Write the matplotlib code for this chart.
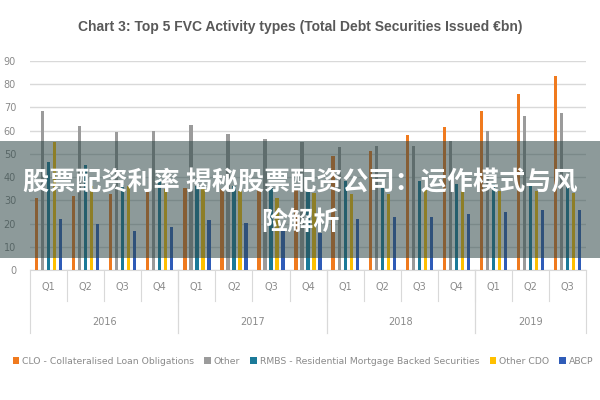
import numpy as np
import matplotlib
matplotlib.use('Agg')
import matplotlib.pyplot as plt
from matplotlib.lines import Line2D
from matplotlib.patches import Rectangle

# data (EUR bn)
years = ['2016', '2017', '2018', '2019']
quarters = ['Q1', 'Q2', 'Q3', 'Q4', 'Q1', 'Q2', 'Q3', 'Q4',
            'Q1', 'Q2', 'Q3', 'Q4', 'Q1', 'Q2', 'Q3']
quartersPerYear = [4, 4, 4, 3]

seriesNames = ['CLO - Collateralised Loan Obligations', 'Other',
               'RMBS - Residential Mortgage Backed Securities', 'Other CDO', 'ABCP']
clo = [30.9, 31.9, 32.9, 33.7, 35.4, 34.7, 35.0, 34.7, 49.0, 51.1, 58.0, 61.4, 68.6, 75.7, 83.4]
other = [68.5, 61.8, 59.4, 60.0, 62.3, 58.5, 56.3, 55.0, 52.8, 53.5, 53.3, 55.7, 59.9, 66.4, 67.4]
rmbs = [46.6, 45.4, 36.5, 39.0, 36.0, 36.0, 35.4, 34.0, 38.3, 35.4, 38.3, 36.9, 37.0, 36.0, 36.0]
otherCdo = [55.1, 36.0, 36.0, 35.0, 35.4, 34.0, 31.1, 33.3, 32.6, 32.6, 34.7, 34.0, 34.0, 34.0, 33.0]
abcp = [22.0, 20.0, 17.0, 18.5, 21.6, 20.2, 17.6, 16.0, 22.0, 23.0, 22.7, 24.3, 25.0, 25.7, 25.7]

colors = ['#f07a1e', '#9b9b9b', '#1b7a99', '#ffc000', '#2f5cb8']
textGray = '#8a8a8a'
cjk = ['Noto Sans CJK SC', 'DejaVu Sans']

fig = plt.figure(figsize=(6, 4), dpi=100)
ax = fig.add_axes([0.05, 0.325, 0.927, 0.5225])

ind = np.arange(len(quarters))
step = 0.162
width = 0.09
for i, vals in enumerate([clo, other, rmbs, otherCdo, abcp]):
  ax.bar(ind + (i - 2) * step, vals, width, color=colors[i], label=seriesNames[i], zorder=3)

ax.set_xlim(-0.5, len(quarters) - 0.5)
ax.set_ylim(0, 90)
ax.set_yticks(np.arange(0, 91, 10))
ax.tick_params(axis='y', length=0, labelsize=7, labelcolor=textGray, pad=10)
ax.set_xticks([])
ax.yaxis.grid(True, color='#d9d9d9', linewidth=1, zorder=0)
for s in ['top', 'right', 'left']:
  ax.spines[s].set_visible(False)
ax.spines['bottom'].set_color('#d9d9d9')

# multi level category axis
trans = ax.get_xaxis_transform()
for i, q in enumerate(quarters):
  ax.text(i, -0.08, q, transform=trans, ha='center', va='center', fontsize=7, color=textGray)
  if i > 0:
    ax.add_line(Line2D([i - 0.5, i - 0.5], [0, -0.15], transform=trans, color='#d9d9d9',
                       linewidth=0.8, clip_on=False))
start = 0
for y, n in zip(years, quartersPerYear):
  ax.text(start + n / 2 - 0.5, -0.25, y, transform=trans, ha='center', va='center',
          fontsize=7, color=textGray)
  for x in (start - 0.5, start + n - 0.5):
    ax.add_line(Line2D([x, x], [0, -0.3], transform=trans, color='#d9d9d9',
                       linewidth=0.8, clip_on=False))
  start += n

fig.text(0.5, 0.932, 'Chart 3: Top 5 FVC Activity types (Total Debt Securities Issued \u20acbn)',
         ha='center', va='center', fontsize=10, color='#595959', fontweight='bold',
         family='Liberation Sans')

leg = fig.legend(loc='center', bbox_to_anchor=(0.505, 0.097), ncol=5, frameon=False,
                 fontsize=6.7, handlelength=0.7, handleheight=0.7, handletextpad=0.3,
                 columnspacing=1.1, borderaxespad=0)
for t in leg.get_texts():
  t.set_color(textGray)

# banner overlay
fig.patches.append(Rectangle((0, 0.355), 1, 0.293, transform=fig.transFigure,
                             facecolor='#2f4848', alpha=0.55, zorder=10))
plt.rcParams['font.family'] = cjk
fig.text(0.5, 0.543, '股票配资利率 揭秘股票配资公司：运作模式与风', ha='center', va='center',
         fontsize=18.8, color='white', fontweight='bold', zorder=11, family=cjk)
fig.text(0.5, 0.445, '险解析', ha='center', va='center', fontsize=18.8, color='white',
         fontweight='bold', zorder=11, family=cjk)

fig.savefig('out.png', dpi=100)
